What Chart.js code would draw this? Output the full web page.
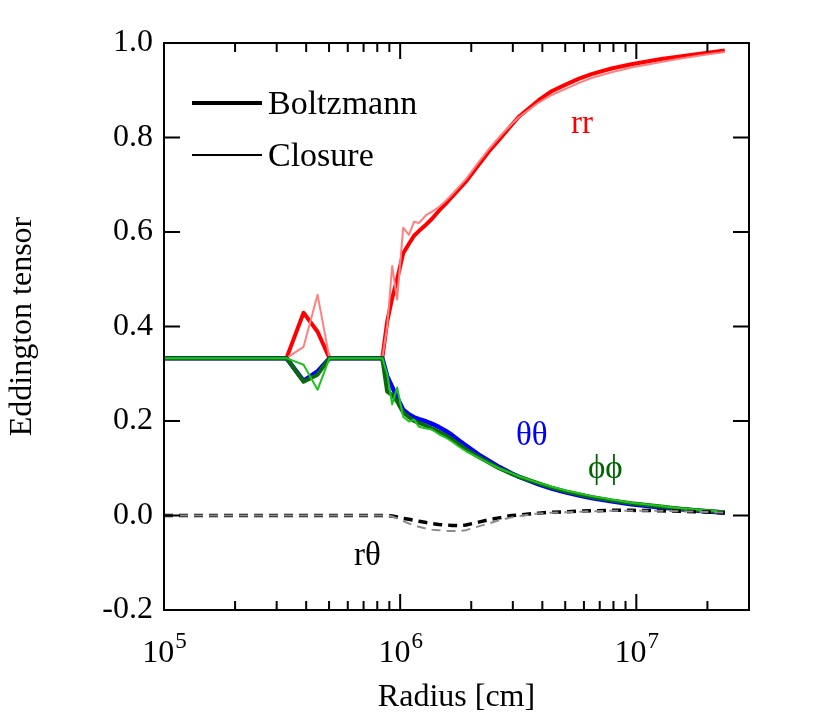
<!DOCTYPE html>
<html>
<head>
<meta charset="utf-8">
<script src="https://cdn.jsdelivr.net/npm/chart.js@4.4.1/dist/chart.umd.min.js"></script>
<style>
  html, body { margin: 0; padding: 0; background: #fff; }
  #wrap { width: 830px; height: 727px; position: relative; }
</style>
</head>
<body>
<div id="wrap"><canvas id="chartTensor"></canvas></div>
<script>
// radius grid [cm]
const radius = [1.0e5, 3.30e5, 3.90e5, 4.47e5, 5.02e5, 8.40e5, 8.81e5, 9.25e5, 9.71e5, 1.03e6,
  1.09e6, 1.145e6, 1.20e6, 1.29e6, 1.365e6, 1.46e6, 1.56e6, 1.66e6, 1.77e6, 1.90e6,
  2.15e6, 2.37e6, 2.62e6, 2.97e6, 3.18e6, 3.86e6, 4.38e6, 5.02e6, 5.69e6, 6.46e6,
  7.85e6, 9.53e6, 1.275e7, 1.50e7, 1.83e7, 2.37e7];

// Boltzmann (thick) and closure (thin) components
const rrBoltz = [0.333, 0.333, 0.429, 0.389, 0.333, 0.333, 0.41, 0.46, 0.50, 0.555,
  0.575, 0.592, 0.602, 0.616, 0.628, 0.645, 0.660, 0.675, 0.690, 0.707,
  0.742, 0.770, 0.795, 0.827, 0.844, 0.879, 0.898, 0.912, 0.924, 0.934,
  0.946, 0.955, 0.966, 0.971, 0.977, 0.984];
const rrClosure = [0.333, 0.333, 0.357, 0.467, 0.333, 0.333, 0.40, 0.528, 0.457, 0.609,
  0.594, 0.622, 0.619, 0.636, 0.643, 0.653, 0.666, 0.680, 0.695, 0.712,
  0.748, 0.775, 0.800, 0.829, 0.843, 0.874, 0.890, 0.903, 0.915, 0.926,
  0.938, 0.948, 0.960, 0.966, 0.973, 0.981];
const ttBoltz = [0.333, 0.333, 0.285, 0.305, 0.333, 0.333, 0.295, 0.272, 0.250, 0.224,
  0.214, 0.208, 0.204, 0.199, 0.194, 0.187, 0.179, 0.170, 0.159, 0.148,
  0.129, 0.116, 0.103, 0.089, 0.082, 0.066, 0.057, 0.049, 0.043, 0.037,
  0.030, 0.024, 0.017, 0.014, 0.010, 0.006];
const ppBoltz = [0.333, 0.333, 0.283, 0.298, 0.333, 0.333, 0.262, 0.255, 0.241, 0.218,
  0.208, 0.200, 0.196, 0.190, 0.184, 0.177, 0.170, 0.161, 0.151, 0.140,
  0.124, 0.112, 0.100, 0.088, 0.082, 0.068, 0.059, 0.051, 0.045, 0.039,
  0.032, 0.026, 0.019, 0.015, 0.011, 0.007];
const ppClosure = [0.333, 0.333, 0.319, 0.266, 0.333, 0.333, 0.300, 0.235, 0.271, 0.209,
  0.199, 0.203, 0.188, 0.184, 0.182, 0.172, 0.165, 0.156, 0.146, 0.136,
  0.122, 0.111, 0.100, 0.089, 0.083, 0.069, 0.061, 0.053, 0.047, 0.041,
  0.034, 0.027, 0.020, 0.016, 0.012, 0.008];
const rtBoltz = [0, 0, 0, 0, 0, 0, 0, -0.001, -0.003, -0.006,
  -0.008, -0.010, -0.012, -0.015, -0.017, -0.019, -0.020, -0.021, -0.021, -0.020,
  -0.014, -0.009, -0.005, 0.000, 0.001, 0.005, 0.007, 0.008, 0.009, 0.010,
  0.011, 0.011, 0.010, 0.009, 0.008, 0.006];
const rtClosure = [0, 0, 0, 0, 0, 0, 0, -0.002, -0.006, -0.012,
  -0.017, -0.021, -0.024, -0.028, -0.030, -0.031, -0.033, -0.033, -0.033, -0.031,
  -0.023, -0.017, -0.010, -0.004, -0.001, 0.004, 0.006, 0.007, 0.008, 0.009,
  0.010, 0.010, 0.010, 0.009, 0.008, 0.006];

// axis ticks
const xMajorTicks = [1e5, 1e6, 1e7];
const xTickExponents = ['5', '6', '7'];
const yTickValues = [-0.2, 0.0, 0.2, 0.4, 0.6, 0.8, 1.0];

const serif = "'Liberation Serif', 'Times New Roman', serif";
const pts = vals => vals.map((v, i) => ({ x: radius[i], y: v }));

// bingkai, tick ke dalam, label 10^n, legenda dan catatan seri
const frameAndNotes = {
  id: 'frameAndNotes',
  afterDraw(chart) {
    const ctx = chart.ctx;
    const a = chart.chartArea;
    const xs = chart.scales.x;
    const ys = chart.scales.y;
    ctx.save();
    ctx.strokeStyle = '#000';
    ctx.lineWidth = 2;
    ctx.strokeRect(a.left, a.top, a.right - a.left, a.bottom - a.top);

    ctx.beginPath();
    yTickValues.forEach(v => {
      const y = ys.getPixelForValue(v);
      ctx.moveTo(a.left, y); ctx.lineTo(a.left + 16, y);
      ctx.moveTo(a.right, y); ctx.lineTo(a.right - 16, y);
    });
    xMajorTicks.forEach(dec => {
      for (let m = 1; m <= 9; m++) {
        const val = dec * m;
        if (val < xs.min || val >= xs.max) continue;
        const x = xs.getPixelForValue(val);
        const len = m === 1 ? 16 : 9;
        ctx.moveTo(x, a.bottom); ctx.lineTo(x, a.bottom - len);
        ctx.moveTo(x, a.top); ctx.lineTo(x, a.top + len);
      }
    });
    ctx.stroke();

    // label sumbu x: 10 pangkat n
    ctx.fillStyle = '#000';
    ctx.textAlign = 'left';
    ctx.textBaseline = 'alphabetic';
    xMajorTicks.forEach((v, i) => {
      const x = xs.getPixelForValue(v);
      ctx.font = '32px ' + serif;
      const wBase = ctx.measureText('10').width;
      ctx.font = '23px ' + serif;
      const wExp = ctx.measureText(xTickExponents[i]).width;
      const x0 = x - (wBase + wExp) / 2;
      ctx.font = '32px ' + serif;
      ctx.fillText('10', x0, a.bottom + 52);
      ctx.font = '23px ' + serif;
      ctx.fillText(xTickExponents[i], x0 + wBase + 1, a.bottom + 38);
    });

    // legenda
    ctx.strokeStyle = '#000';
    ctx.lineWidth = 4;
    ctx.beginPath(); ctx.moveTo(192, 103); ctx.lineTo(262, 103); ctx.stroke();
    ctx.lineWidth = 2;
    ctx.beginPath(); ctx.moveTo(192, 155); ctx.lineTo(262, 155); ctx.stroke();
    ctx.font = '34px ' + serif;
    ctx.fillText('Boltzmann', 268, 114);
    ctx.fillText('Closure', 268, 166);

    // nama komponen
    ctx.font = '33px ' + serif;
    ctx.fillStyle = '#ff0000';
    ctx.fillText('rr', 571, 133);
    ctx.fillStyle = '#0000ff';
    ctx.fillText('θθ', 516, 445);
    ctx.fillStyle = '#006400';
    ctx.fillText('ϕϕ', 588, 478);
    ctx.fillStyle = '#000';
    ctx.fillText('rθ', 354, 565);
    ctx.restore();
  }
};

const ctx = document.getElementById('chartTensor').getContext('2d');
new Chart(ctx, {
  type: 'line',
  data: {
    datasets: [
      { label: 'rθ closure', data: pts(rtClosure), borderColor: '#8c8c8c', borderWidth: 2, borderDash: [9, 6] },
      { label: 'rθ Boltzmann', data: pts(rtBoltz), borderColor: '#000000', borderWidth: 3.5, borderDash: [9, 6] },
      { label: 'ϕϕ closure', data: pts(ppClosure), borderColor: '#1ec41e', borderWidth: 2 },
      { label: 'ϕϕ Boltzmann', data: pts(ppBoltz), borderColor: '#0a6a0a', borderWidth: 4 },
      { label: 'θθ Boltzmann', data: pts(ttBoltz), borderColor: '#0000ff', borderWidth: 4.5 },
      { label: 'rr closure', data: pts(rrClosure), borderColor: '#ff8080', borderWidth: 2 },
      { label: 'rr Boltzmann', data: pts(rrBoltz), borderColor: '#ff0000', borderWidth: 4 }
    ]
  },
  options: {
    responsive: true,
    maintainAspectRatio: false,
    animation: false,
    devicePixelRatio: 1,
    elements: {
      point: { radius: 0 },
      line: { tension: 0, fill: false, borderCapStyle: 'butt', borderJoinStyle: 'round' }
    },
    layout: { padding: { left: 0, right: 81, top: 43, bottom: 0 } },
    scales: {
      x: {
        type: 'logarithmic',
        min: 1e5,
        max: 3e7,
        grid: { display: false, drawTicks: false },
        border: { display: false },
        ticks: { display: false },
        title: {
          display: true,
          text: 'Radius [cm]',
          color: '#000',
          font: { family: serif, size: 32 },
          padding: { top: 0, bottom: 10 }
        },
        afterFit(scale) { scale.height = 117; }
      },
      y: {
        min: -0.2,
        max: 1.0,
        grid: { display: false, drawTicks: false },
        border: { display: false },
        afterBuildTicks(scale) { scale.ticks = yTickValues.map(v => ({ value: v })); },
        ticks: {
          autoSkip: false,
          padding: 11,
          color: '#000',
          font: { family: serif, size: 32 },
          callback: v => (Math.abs(v) < 1e-9 ? 0 : v).toFixed(1)
        },
        title: {
          display: true,
          text: 'Eddington tensor',
          color: '#000',
          font: { family: serif, size: 32 },
          padding: { top: 3, bottom: 0 }
        },
        afterFit(scale) { scale.width = 164; }
      }
    },
    plugins: {
      legend: { display: false },
      tooltip: { enabled: false }
    }
  },
  plugins: [frameAndNotes]
});
</script>
</body>
</html>
